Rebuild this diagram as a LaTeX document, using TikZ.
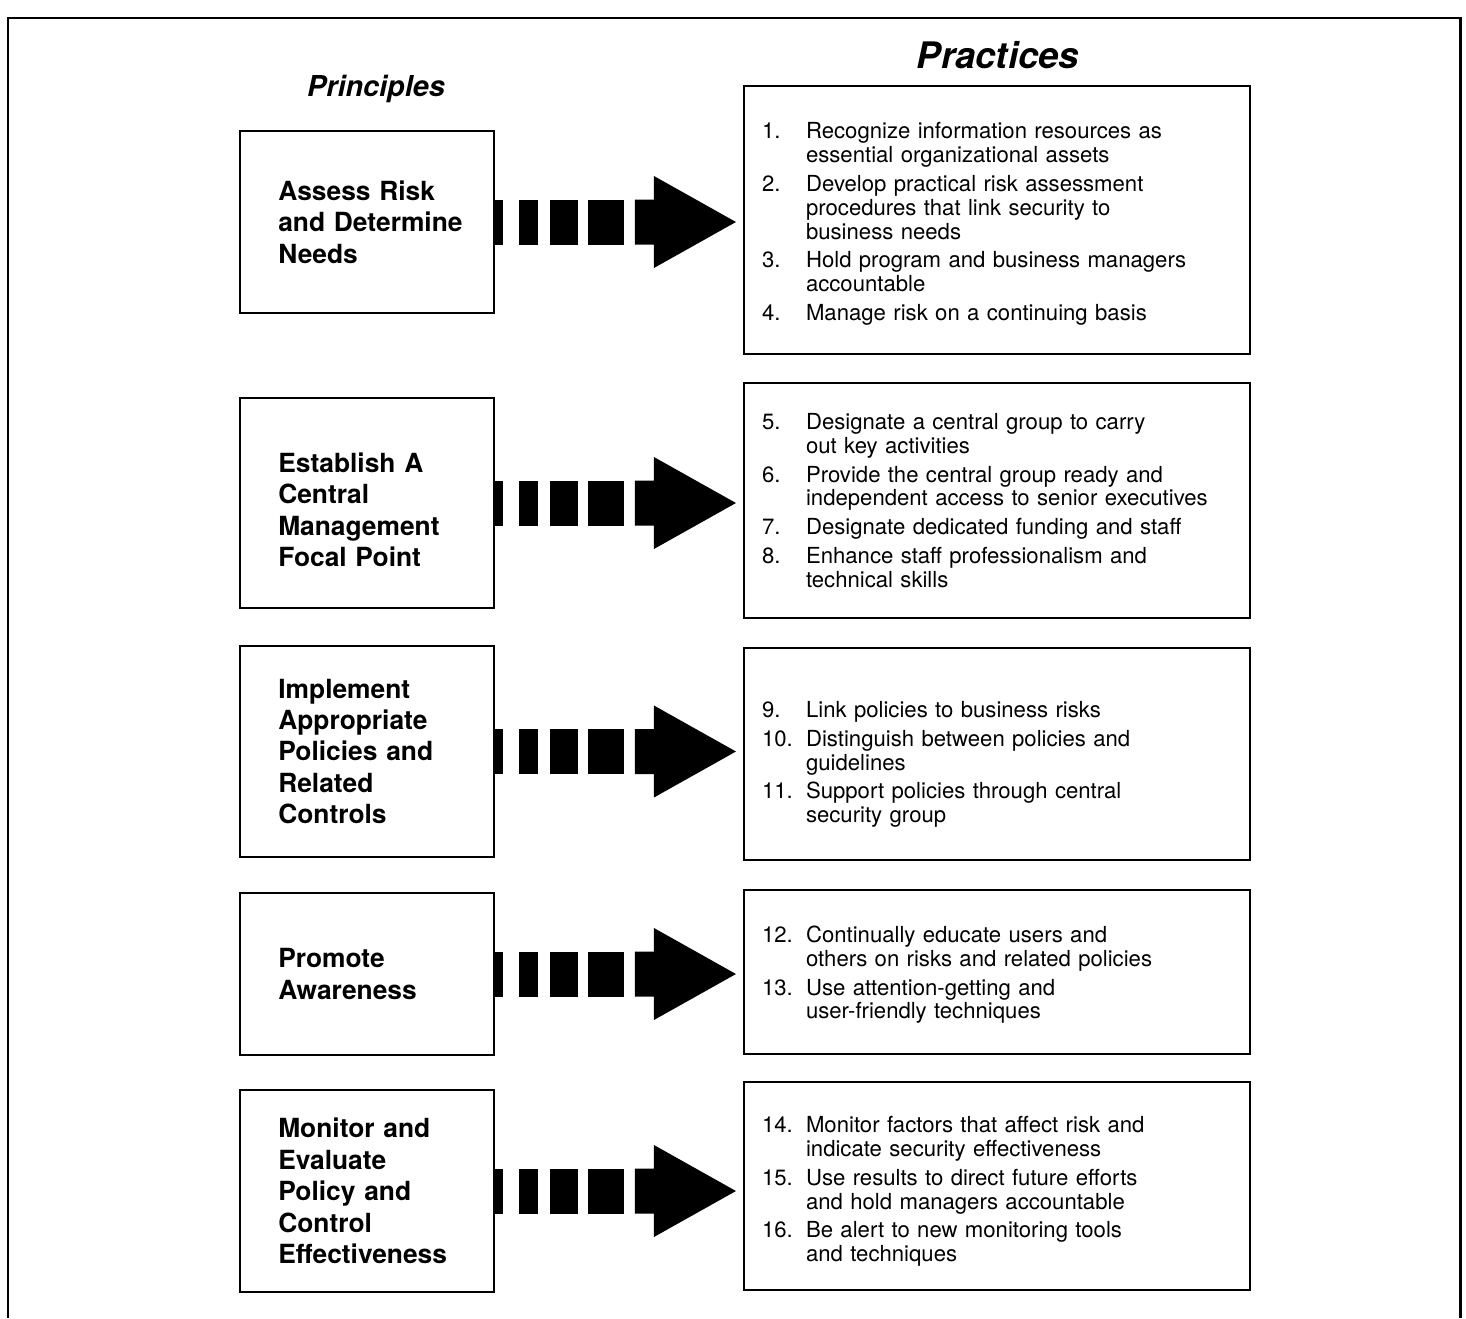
\documentclass[tikz,border=0pt]{standalone}
\usepackage{fontspec}
\setmainfont{TeX Gyre Heros}
\usetikzlibrary{calc}

\newcommand\num[1]{\makebox[0.88cm][l]{#1}}
\newcommand\cont{\hspace*{0.88cm}}

\begin{document}
\begin{tikzpicture}[x=0.02cm,y=-0.02cm,
    pbox/.style={draw,line width=1.1pt,minimum width=5.08cm,text width=3.55cm,align=left,inner sep=0pt,
      font=\fontsize{15}{17.9}\selectfont\bfseries},
    rbox/.style={draw,line width=1.4pt,minimum width=10.12cm,text width=9.4cm,align=left,inner xsep=0.36cm,inner ysep=0pt,
      font=\fontsize{12.6}{13.6}\selectfont},
    dots/.style={fill=black}]
  \useasboundingbox (0,0) rectangle (1466,1318);
  % frame
  \draw[line width=1.7pt] (8,1318) -- (8,18) -- (1460,18) -- (1460,1318);
  % headings
  \node[font=\fontsize{16.4}{19}\selectfont\bfseries\itshape] (prin) at (376,89) {Principles};
  \node[font=\fontsize{20.8}{24}\selectfont\bfseries\itshape] (prac) at (998,55) {Practices};

  % principles
  \node[pbox,minimum height=3.64cm] (p1) at (367,222) {Assess Risk\\\mbox{and Determine}\\Needs};
  \node[pbox,minimum height=4.2cm] (p2) at (367,503) {\rule{0pt}{0.66cm}Establish A\\Central\\Management\\Focal Point};
  \node[pbox,minimum height=4.22cm] (p3) at (367,751.5) {Implement\\Appropriate\\Policies and\\Related\\Controls};
  \node[pbox,minimum height=3.24cm] (p4) at (367,974) {Promote\\Awareness};
  \node[pbox,minimum height=4.04cm] (p5) at (367,1191) {Monitor and\\Evaluate\\Policy and\\Control\\Effectiveness};

  % practices
  \node[rbox,minimum height=5.36cm] (r1) at (997,220) {%
    \rule{0pt}{0.48cm}\num{1.}Recognize information resources as\\ \cont essential organizational assets\\[0.1cm]
    \num{2.}Develop practical risk assessment\\ \cont procedures that link security to\\ \cont business needs\\[0.1cm]
    \num{3.}Hold program and business managers\\ \cont accountable\\[0.1cm]
    \num{4.}Manage risk on a continuing basis};
  \node[rbox,minimum height=4.7cm] (r2) at (997,500.5) {%
    \num{5.}Designate a central group to carry\\ \cont out key activities\\[0.1cm]
    \num{6.}Provide the central group ready and\\ \cont independent access to senior executives\\[0.1cm]
    \num{7.}Designate dedicated funding and staff\\[0.1cm]
    \num{8.}Enhance staff professionalism and\\ \cont technical skills};
  \node[rbox,minimum height=4.24cm] (r3) at (997,754) {%
    \rule{0pt}{0.74cm}\num{9.}Link policies to business risks\\[0.1cm]
    \num{10.}Distinguish between policies and\\ \cont guidelines\\[0.1cm]
    \num{11.}Support policies through central\\ \cont security group};
  \node[rbox,minimum height=3.28cm] (r4) at (997,972) {%
    \rule{0pt}{0.44cm}\num{12.}Continually educate users and\\ \cont others on risks and related policies\\[0.1cm]
    \num{13.}Use attention-getting and\\ \cont user-friendly techniques};
  \node[rbox,minimum height=4.16cm] (r5) at (997,1186) {%
    \rule{0pt}{0.54cm}\num{14.}Monitor factors that affect risk and\\ \cont indicate security effectiveness\\[0.1cm]
    \num{15.}Use results to direct future efforts\\ \cont and hold managers accountable\\[0.1cm]
    \num{16.}Be alert to new monitoring tools\\ \cont and techniques};

  % broken block arrows
  \foreach \i in {1,...,5} {
    \fill[dots] ($(p\i.east)+(0,-22.5)$) rectangle ++(8,45);
    \fill[dots] ($(p\i.east)+(24,-22.5)$) rectangle ++(19,45);
    \fill[dots] ($(p\i.east)+(55,-22.5)$) rectangle ++(28,45);
    \fill[dots] ($(p\i.east)+(93,-22.5)$) rectangle ++(36,45);
    \fill[dots] ($(p\i.east)+(140,-22.5)$) -- ++(19,0) -- ++(0,-23.5) -- ++(82,46)
      -- ++(-82,46) -- ++(0,-23.5) -- ++(-19,0) -- cycle;
  }
\end{tikzpicture}
\end{document}
